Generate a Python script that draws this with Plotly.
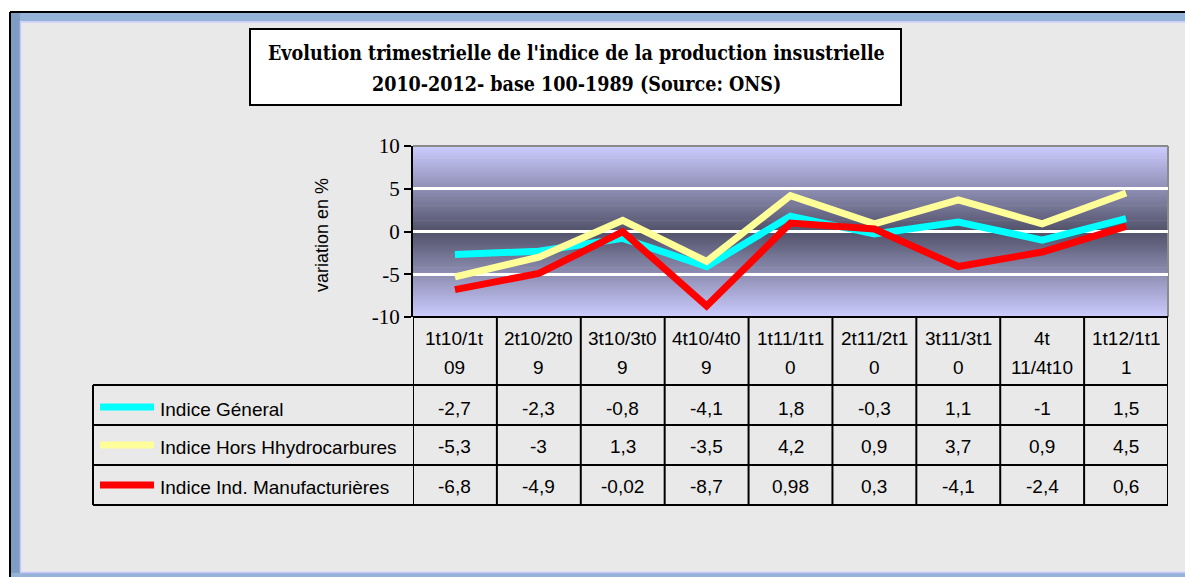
import plotly.graph_objects as go

W, H = 1185, 577

# ---- data ----
periods = ["1t10/1t<br>09", "2t10/2t0<br>9", "3t10/3t0<br>9", "4t10/4t0<br>9",
           "1t11/1t1<br>0", "2t11/2t1<br>0", "3t11/3t1<br>0", "4t<br>11/4t10", "1t12/1t1<br>1"]
indice_general = [-2.7, -2.3, -0.8, -4.1, 1.8, -0.3, 1.1, -1, 1.5]
indice_hors_hydro = [-5.3, -3, 1.3, -3.5, 4.2, 0.9, 3.7, 0.9, 4.5]
indice_manuf = [-6.8, -4.9, -0.02, -8.7, 0.98, 0.3, -4.1, -2.4, 0.6]
series_names = ["Indice Géneral", "Indice Hors Hhydrocarbures", "Indice Ind. Manufacturières"]
series_values = [indice_general, indice_hors_hydro, indice_manuf]
series_colors = ["#00ffff", "#ffff99", "#ff0000"]
yticks = [-10, -5, 0, 5, 10]

def px(x):
    return x / W

def py(y):
    return 1 - y / H

xs = list(range(len(periods)))

fig = go.Figure()
for name, vals, col in zip(series_names, series_values, series_colors):
    fig.add_trace(go.Scatter(x=xs, y=vals, mode="lines", name=name,
                             line=dict(color=col, width=7), showlegend=False))

shapes = []
# page background
shapes.append(dict(type="rect", xref="paper", yref="paper", x0=px(10), x1=px(W), y0=py(577), y1=py(12),
                   fillcolor="#e9e9e9", line=dict(width=0), layer="below"))
# frame bands
shapes.append(dict(type="rect", xref="paper", yref="paper", x0=px(11), x1=px(W), y0=py(21), y1=py(13),
                   fillcolor="#95b3d7", line=dict(width=0), layer="below"))
shapes.append(dict(type="rect", xref="paper", yref="paper", x0=px(11), x1=px(20), y0=py(577), y1=py(13),
                   fillcolor="#7f9cc2", line=dict(width=0), layer="below"))
shapes.append(dict(type="rect", xref="paper", yref="paper", x0=px(11), x1=px(W), y0=py(577), y1=py(573),
                   fillcolor="#95b3d7", line=dict(width=0), layer="below"))
shapes.append(dict(type="line", xref="paper", yref="paper", x0=px(20.5), x1=px(W), y0=py(22), y1=py(22),
                   line=dict(color="#c8c8ff", width=1.5), layer="below"))
shapes.append(dict(type="line", xref="paper", yref="paper", x0=px(20.5), x1=px(20.5), y0=py(572), y1=py(22),
                   line=dict(color="#c8c8ff", width=1.5), layer="below"))
shapes.append(dict(type="line", xref="paper", yref="paper", x0=px(20.5), x1=px(W), y0=py(572.5), y1=py(572.5),
                   line=dict(color="#c8c8ff", width=1.5), layer="below"))
# outer black border
shapes.append(dict(type="line", xref="paper", yref="paper", x0=px(10), x1=px(W), y0=py(12), y1=py(12),
                   line=dict(color="black", width=2), layer="below"))
shapes.append(dict(type="line", xref="paper", yref="paper", x0=px(10), x1=px(10), y0=py(577), y1=py(12),
                   line=dict(color="black", width=2), layer="below"))

# plot-area gradient (lavender at edges, dark slate at middle)
top_c = (204, 204, 255)
mid_c = (82, 82, 106)
n = 80
for i in range(n):
    f0 = i / n
    f1 = (i + 1) / n
    fm = (f0 + f1) / 2
    t = abs(fm - 0.5) * 2  # 0 at middle, 1 at edges
    c = tuple(int(mid_c[k] + (top_c[k] - mid_c[k]) * t) for k in range(3))
    shapes.append(dict(type="rect", xref="x domain", yref="y domain", x0=0, x1=1, y0=f0, y1=min(1, f1 + 0.004),
                       fillcolor="rgb(%d,%d,%d)" % c, line=dict(width=0), layer="below"))
# plot border: grey top & right
shapes.append(dict(type="line", xref="x domain", yref="y domain", x0=0, x1=1, y0=1, y1=1,
                   line=dict(color="#8a8a8a", width=2), layer="below"))
shapes.append(dict(type="line", xref="x domain", yref="y domain", x0=1, x1=1, y0=0, y1=1,
                   line=dict(color="#8a8a8a", width=2), layer="below"))

# title box
shapes.append(dict(type="rect", xref="paper", yref="paper", x0=px(250), x1=px(901), y0=py(105), y1=py(29),
                   fillcolor="white", line=dict(color="black", width=2)))

# data table grid
tbl_left = 93
row_lines = [385, 425, 465, 505]
for yl in row_lines:
    shapes.append(dict(type="line", xref="paper", yref="paper", x0=px(tbl_left), x1=px(1168), y0=py(yl), y1=py(yl),
                       line=dict(color="black", width=2)))
shapes.append(dict(type="line", xref="x", yref="paper", x0=-0.5, x1=len(periods) - 0.5, y0=py(317), y1=py(317),
                   line=dict(color="black", width=2)))
for k in range(len(periods) + 1):
    shapes.append(dict(type="line", xref="x", yref="paper", x0=k - 0.5, x1=k - 0.5, y0=py(505), y1=py(317),
                       line=dict(color="black", width=2)))
shapes.append(dict(type="line", xref="paper", yref="paper", x0=px(tbl_left), x1=px(tbl_left), y0=py(505), y1=py(385),
                   line=dict(color="black", width=2)))

annotations = []
tfont = dict(family="Liberation Sans", size=19, color="black")
# header cells
for i, lab in enumerate(periods):
    l1, l2 = lab.split("<br>")
    annotations.append(dict(x=i, y=py(338), xref="x", yref="paper", text=l1, showarrow=False,
                            font=tfont, xanchor="center", yanchor="middle"))
    annotations.append(dict(x=i, y=py(367), xref="x", yref="paper", text=l2, showarrow=False,
                            font=tfont, xanchor="center", yanchor="middle"))
row_centers = [408, 446, 486]
for r, (name, vals, col) in enumerate(zip(series_names, series_values, series_colors)):
    yc = row_centers[r]
    shapes.append(dict(type="rect", xref="paper", yref="paper", x0=px(100), x1=px(154),
                       y0=py(yc - 1 + 3.5), y1=py(yc - 1 - 3.5), fillcolor=col, line=dict(width=0)))
    annotations.append(dict(x=px(158), y=py(yc + 1), xref="paper", yref="paper", text=name, showarrow=False,
                            font=tfont, xanchor="left", yanchor="middle"))
    for i, v in enumerate(vals):
        s = ("%g" % v).replace(".", ",")
        annotations.append(dict(x=i, y=py(yc), xref="x", yref="paper", text=s, showarrow=False,
                                font=tfont, xanchor="center", yanchor="middle"))

# title text
ttl_font = dict(family="DejaVu Serif Condensed, DejaVu Serif", size=19.5, color="black")
annotations.append(dict(x=px(576), y=py(54), xref="paper", yref="paper",
                        text="<b>Evolution trimestrielle de l'indice de la production insustrielle</b>",
                        showarrow=False, font=ttl_font, xanchor="center", yanchor="middle"))
annotations.append(dict(x=px(576), y=py(84), xref="paper", yref="paper",
                        text="<b>2010-2012- base 100-1989 (Source: ONS)</b>",
                        showarrow=False, font=ttl_font, xanchor="center", yanchor="middle"))
# y-axis title
annotations.append(dict(x=px(322), y=py(235), xref="paper", yref="paper", text="variation en %",
                        textangle=-90, showarrow=False,
                        font=dict(family="Liberation Sans", size=18, color="black"),
                        xanchor="center", yanchor="middle"))

fig.update_layout(
    width=W, height=H,
    margin=dict(l=0, r=0, t=0, b=0, pad=0, autoexpand=False),
    paper_bgcolor="white",
    plot_bgcolor="rgba(0,0,0,0)",
    shapes=shapes,
    annotations=annotations,
    xaxis=dict(domain=[px(413), px(1168)], range=[-0.5, len(periods) - 0.5], showticklabels=False,
               showgrid=False, zeroline=False, showline=False, fixedrange=True, automargin=False),
    yaxis=dict(domain=[py(317), py(146)], range=[-10, 10], tickvals=yticks,
               ticktext=[str(v) for v in yticks], automargin=False,
               ticks="outside", ticklen=7, tickwidth=2, tickcolor="black", showline=True, linecolor="black",
               linewidth=2, showgrid=True, gridcolor="white", gridwidth=2.5,
               zeroline=True, zerolinecolor="white", zerolinewidth=2.5,
               tickfont=dict(family="Liberation Serif", size=21, color="black")),
)

post = (
    "var gd=document.getElementById('{plot_id}');"
    "gd.style.position='absolute';gd.style.top='0px';gd.style.left='0px';"
    "document.body.style.margin='0';document.body.style.padding='0';"
    "document.body.style.height='577px';document.body.style.overflow='hidden';"
    "document.documentElement.style.height='577px';document.documentElement.style.overflow='hidden';"
)
fig.write_html("out.html", config={"displayModeBar": False}, post_script=post)
